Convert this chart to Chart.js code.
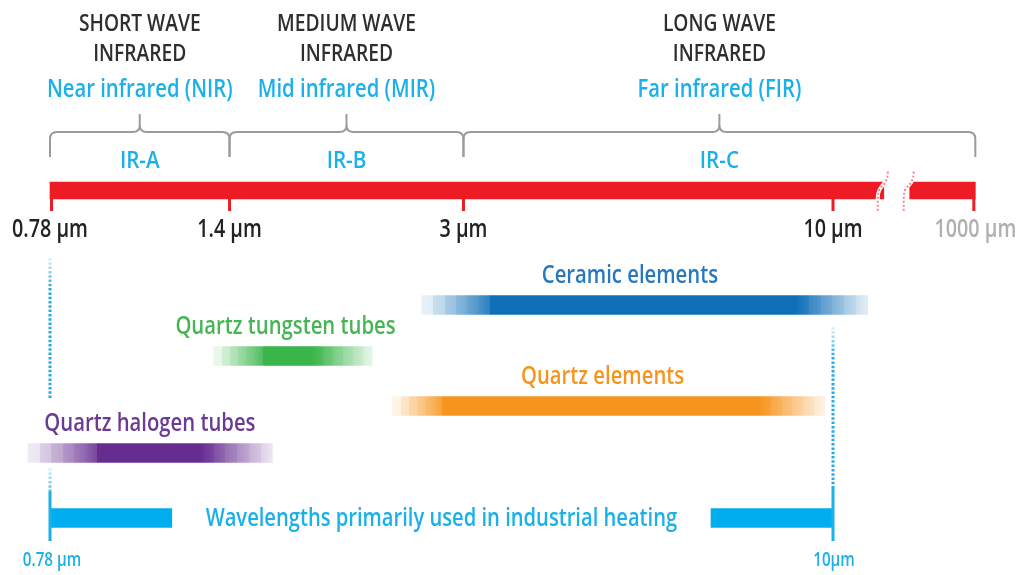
<!DOCTYPE html>
<html>
<head>
<meta charset="utf-8">
<title>Infrared wavelengths used in industrial heating</title>
<script src="https://cdn.jsdelivr.net/npm/chart.js@4.4.1/dist/chart.umd.min.js"></script>
<style>
  html, body { margin: 0; padding: 0; background: #fff; }
  #wrap { width: 1026px; height: 575px; position: relative; }
</style>
</head>
<body>
<div id="wrap"><canvas id="irChart"></canvas></div>
<script>
// Wavelength axis in µm (log scale). The 1000 µm end sits just past an axis break.
const tickValues = [0.78, 1.4, 3, 10, 15.9];
const tickLabels = ['0.78 µm', '1.4 µm', '3 µm', '10 µm', '1000 µm'];

const bandNames = ['IR-A', 'IR-B', 'IR-C'];
const bandStart = [0.78, 1.4, 3];
const bandEnd = [1.4, 3, 15.9];
const bandTitles = [['SHORT WAVE', 'INFRARED'], ['MEDIUM WAVE', 'INFRARED'], ['LONG WAVE', 'INFRARED']];
const bandSubtitles = ['Near infrared (NIR)', 'Mid infrared (MIR)', 'Far infrared (FIR)'];

// red spectrum bar, broken between the two segments
const spectrumSegments = [[0.78, 11.8], [12.84, 15.9]];

// heater emission ranges: faded start, full colour start, full colour end, faded end
const heaterNames = ['Ceramic elements', 'Quartz tungsten tubes', 'Quartz elements', 'Quartz halogen tubes'];
const heaterStart = [2.62, 1.33, 2.38, 0.726];
const heaterFullStart = [3.27, 1.56, 2.80, 0.91];
const heaterFullEnd = [8.89, 1.84, 7.88, 1.28];
const heaterEnd = [11.2, 2.23, 9.74, 1.61];
const heaterLabelAt = [5.16, 1.68, 4.72, 1.08];

const industrialRange = [0.78, 10];
const industrialEndLabels = ['0.78 µm', '10µm'];
const industrialLabel = 'Wavelengths primarily used in industrial heating';
const industrialSegments = [[0.78, 1.16], [6.72, 10]];

// vertical lanes (layout only, 25 px each)
const LANE = {
    title1: 0.96, title2: 2.16, subtitle: 3.58,
    braceTop: 4.56, braceLine: 5.28, braceBottom: 6.28, irLabel: 6.44,
    spectrum: 7.62, tickLabel: 9.2,
    heaters: [12.2, 14.24, 16.24, 18.12],
    industrial: 20.72, endLabel: 22.44
};

const heaterColors = ['#0f6fb7', '#39b54a', '#f7941d', '#662d91'];
const heaterTextColors = ['#2878bd', '#45b653', '#f7941d', '#6b3a94'];
const CYAN = '#1ab0ea';
const RED = '#ed1c24';
const FONT = '"Open Sans", "Noto Sans", sans-serif';
const WEIGHT = '600';

function rgba(hex, a) {
    const n = parseInt(hex.slice(1), 16);
    return 'rgba(' + (n >> 16) + ',' + ((n >> 8) & 255) + ',' + (n & 255) + ',' + a + ')';
}

// stepped fade in / out like the printed bars
function heaterFill(ctx) {
    const chart = ctx.chart;
    const i = ctx.dataIndex;
    const xs = chart.scales.x;
    if (!chart.chartArea || !xs || ctx.type !== 'data') return heaterColors[i];
    const p0 = xs.getPixelForValue(heaterStart[i]);
    const p1 = xs.getPixelForValue(heaterFullStart[i]);
    const p2 = xs.getPixelForValue(heaterFullEnd[i]);
    const p3 = xs.getPixelForValue(heaterEnd[i]);
    const w = p3 - p0;
    const g = chart.ctx.createLinearGradient(p0, 0, p3, 0);
    const steps = 6;
    const col = heaterColors[i];
    for (let k = 0; k < steps; k++) {
        const a = (k + 0.8) / (steps + 0.6);
        g.addColorStop(((p1 - p0) * k / steps) / w, rgba(col, a * 0.85));
        g.addColorStop(((p1 - p0) * (k + 1) / steps) / w, rgba(col, a));
    }
    g.addColorStop((p1 - p0) / w, col);
    g.addColorStop((p2 - p0) / w, col);
    for (let k = 0; k < steps; k++) {
        const a = 1 - (k + 0.8) / (steps + 0.6);
        g.addColorStop((p2 - p0 + (p3 - p2) * k / steps) / w, rgba(col, a + 0.1));
        g.addColorStop((p2 - p0 + (p3 - p2) * (k + 1) / steps) / w, rgba(col, a));
    }
    return g;
}

function text(c, str, x, y, size, color, squeeze) {
    c.save();
    c.font = WEIGHT + ' ' + size + 'px ' + FONT;
    c.fillStyle = color;
    c.textAlign = 'center';
    c.textBaseline = 'middle';
    c.translate(x, y);
    c.scale(squeeze, 1);
    c.fillText(str, 0, 0);
    c.restore();
}

function brace(c, xa, xb, yTop, yLine, yBottom) {
    const r = 7;
    const xm = (xa + xb) / 2;
    c.beginPath();
    c.moveTo(xa, yBottom);
    c.lineTo(xa, yLine + r);
    c.quadraticCurveTo(xa, yLine, xa + r, yLine);
    c.lineTo(xm - r, yLine);
    c.quadraticCurveTo(xm, yLine, xm, yLine - r);
    c.lineTo(xm, yTop);
    c.moveTo(xm, yLine - r);
    c.quadraticCurveTo(xm, yLine, xm + r, yLine);
    c.lineTo(xb - r, yLine);
    c.quadraticCurveTo(xb, yLine, xb, yLine + r);
    c.lineTo(xb, yBottom);
    c.stroke();
}

function dotted(c, x, y1, y2) {
    const g = c.createLinearGradient(0, y1, 0, y1 + 30);
    g.addColorStop(0, rgba('#29abe2', 0.15));
    g.addColorStop(1, rgba('#29abe2', 1));
    c.save();
    c.strokeStyle = g;
    c.lineWidth = 3;
    c.setLineDash([2.5, 1.8]);
    c.beginPath();
    c.moveTo(x, y1);
    c.lineTo(x, y2);
    c.stroke();
    c.restore();
}

const annotations = {
    id: 'annotations',
    beforeDatasetsDraw(chart) {
        const c = chart.ctx;
        const X = v => chart.scales.x.getPixelForValue(v);
        const Y = v => chart.scales.y.getPixelForValue(v);
        // guide lines at the industrial range ends
        dotted(c, X(industrialRange[0]), Y(10.32), Y(16.0));
        dotted(c, X(industrialRange[0]), Y(18.72), Y(19.68));
        dotted(c, X(industrialRange[1]), Y(13.08), Y(19.48));
    },
    afterDatasetsDraw(chart) {
        const c = chart.ctx;
        const X = v => chart.scales.x.getPixelForValue(v);
        const Y = v => chart.scales.y.getPixelForValue(v);
        c.save();

        // band headings and braces
        c.strokeStyle = '#9b9b9b';
        c.lineWidth = 2;
        bandNames.forEach((name, i) => {
            const xa = X(bandStart[i]), xb = X(bandEnd[i]);
            const xm = (xa + xb) / 2;
            text(c, bandTitles[i][0], xm, Y(LANE.title1), 24, '#2e2e2e', 0.8);
            text(c, bandTitles[i][1], xm, Y(LANE.title2), 24, '#2e2e2e', 0.8);
            text(c, bandSubtitles[i], xm, Y(LANE.subtitle), 25, CYAN, 0.81);
            brace(c, xa, xb, Y(LANE.braceTop), Y(LANE.braceLine), Y(LANE.braceBottom));
            text(c, name, xm, Y(LANE.irLabel), 24, CYAN, 0.86);
        });

        // ticks under the spectrum bar
        const barBottom = Y(LANE.spectrum) + 8.5;
        tickValues.forEach((v, i) => {
            const p = X(v);
            const left = i === 0 ? p : (i === tickValues.length - 1 ? p - 3 : p - 1.5);
            c.fillStyle = RED;
            c.fillRect(left, barBottom, 3, 12);
            text(c, tickLabels[i], p, Y(LANE.tickLabel), 25,
                i === tickValues.length - 1 ? '#b0b0b0' : '#222', 0.79);
        });

        // axis break squiggles
        [spectrumSegments[0][1], spectrumSegments[1][0]].forEach(v => {
            const xe = X(v);
            const yt = Y(LANE.spectrum) - 19, yb = Y(LANE.spectrum) + 22;
            c.beginPath();
            c.moveTo(xe + 4, yt);
            c.bezierCurveTo(xe + 4, yt + 16, xe - 6, yt + 12, xe - 6, yt + 26);
            c.lineTo(xe - 6, yb);
            c.strokeStyle = '#fff';
            c.lineWidth = 4;
            c.setLineDash([]);
            c.stroke();
            c.strokeStyle = '#f3878b';
            c.lineWidth = 2;
            c.setLineDash([2, 2]);
            c.stroke();
        });
        c.setLineDash([]);

        // heater labels
        heaterNames.forEach((name, i) => {
            text(c, name, X(heaterLabelAt[i]), Y(LANE.heaters[i]) - 29, 26, heaterTextColors[i], 0.78);
        });

        // industrial heating range
        const xl = X(industrialRange[0]), xr = X(industrialRange[1]);
        c.fillStyle = CYAN;
        c.fillRect(xl - 1.5, Y(19.68), 3, Y(21.64) - Y(19.68));
        c.fillRect(xr - 1.5, Y(19.48), 3, Y(21.64) - Y(19.48));
        text(c, industrialLabel, (X(industrialSegments[0][1]) + X(industrialSegments[1][0])) / 2,
            Y(LANE.industrial) + 1, 26, CYAN, 0.775);
        text(c, industrialEndLabels[0], xl + 2, Y(LANE.endLabel), 19, CYAN, 0.8);
        text(c, industrialEndLabels[1], xr + 1, Y(LANE.endLabel), 19, CYAN, 0.8);

        c.restore();
    }
};

new Chart(document.getElementById('irChart'), {
    type: 'bar',
    data: {
        datasets: [
            {
                label: 'Infrared spectrum',
                data: spectrumSegments.map(s => ({ x: s, y: LANE.spectrum })),
                backgroundColor: RED,
                barThickness: 17
            },
            {
                label: 'Heaters',
                data: heaterStart.map((s, i) => ({ x: [s, heaterEnd[i]], y: LANE.heaters[i] })),
                backgroundColor: heaterFill,
                barThickness: 19
            },
            {
                label: 'Industrial heating',
                data: industrialSegments.map(s => ({ x: s, y: LANE.industrial })),
                backgroundColor: '#00aeef',
                barThickness: 19
            }
        ]
    },
    options: {
        indexAxis: 'y',
        responsive: true,
        maintainAspectRatio: false,
        animation: false,
        layout: { padding: { left: 50, right: 193, top: 0, bottom: 0 } },
        datasets: { bar: { grouped: false, clip: false, borderWidth: 0 } },
        scales: {
            x: { type: 'logarithmic', min: 0.78, max: 10, display: false },
            y: { type: 'linear', min: 0, max: 23, reverse: true, offset: false, display: false }
        },
        plugins: {
            legend: { display: false },
            tooltip: { enabled: false },
            title: { display: false }
        }
    },
    plugins: [annotations]
});
</script>
</body>
</html>
